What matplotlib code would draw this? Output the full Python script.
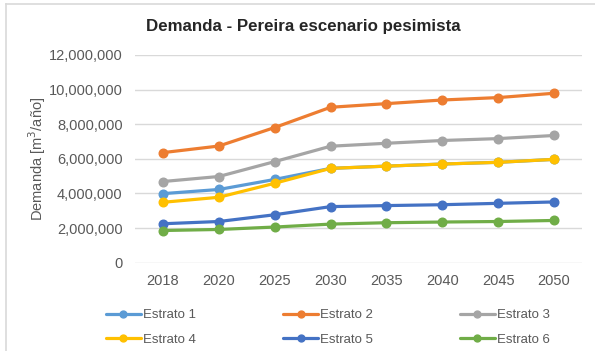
import matplotlib
matplotlib.use("Agg")
import matplotlib.pyplot as plt
from matplotlib.lines import Line2D
from matplotlib.ticker import FuncFormatter

plt.rcParams['font.family'] = ['Liberation Sans', 'DejaVu Sans']

years = ["2018", "2020", "2025", "2030", "2035", "2040", "2045", "2050"]
estrato_1 = [3990000, 4230000, 4810000, 5450000, 5580000, 5700000, 5800000, 5970000]
estrato_2 = [6360000, 6740000, 7810000, 8980000, 9190000, 9400000, 9540000, 9790000]
estrato_3 = [4690000, 4980000, 5840000, 6730000, 6900000, 7060000, 7170000, 7350000]
estrato_4 = [3490000, 3780000, 4590000, 5450000, 5580000, 5700000, 5800000, 5970000]
estrato_5 = [2250000, 2380000, 2770000, 3240000, 3300000, 3350000, 3430000, 3510000]
estrato_6 = [1860000, 1920000, 2060000, 2230000, 2310000, 2350000, 2380000, 2440000]
series_names = ["Estrato 1", "Estrato 2", "Estrato 3", "Estrato 4", "Estrato 5", "Estrato 6"]
series_colors = ["#5B9BD5", "#ED7D31", "#A5A5A5", "#FFC000", "#4472C4", "#70AD47"]
y_ticks = [0, 2000000, 4000000, 6000000, 8000000, 10000000, 12000000]

W, H = 595, 351
fig = plt.figure(figsize=(W / 100, H / 100), dpi=100)
ax = fig.add_axes([135 / W, 1 - 262.7 / H, (582 - 135) / W, (262.7 - 55) / H])

x = list(range(len(years)))
all_series = [estrato_1, estrato_2, estrato_3, estrato_4, estrato_5, estrato_6]
handles = []
for vals, name, col in zip(all_series, series_names, series_colors):
    h, = ax.plot(x, vals, color=col, lw=2.3, marker='o', ms=6.2,
                 solid_capstyle='round', label=name)
    handles.append(h)

ax.set_xlim(-0.5, len(years) - 0.5)
ax.set_ylim(0, 12000000)
ax.set_yticks(y_ticks)
ax.yaxis.set_major_formatter(FuncFormatter(lambda v, p: f"{int(v):,}"))
ax.set_xticks(x)
ax.set_xticklabels(years)
ax.grid(axis='y', color='#D9D9D9', lw=1.0)
ax.set_axisbelow(True)
for s in ax.spines.values():
    s.set_visible(False)
ax.tick_params(axis='both', length=0, labelsize=10.5, colors='#595959')
ax.tick_params(axis='y', pad=9)
ax.tick_params(axis='x', pad=8)

fig.text(303 / W, 1 - 26 / H, "Demanda - Pereira escenario pesimista",
         ha='center', va='center', fontsize=12.2, fontweight='bold', color='#262626')
fig.text(37 / W, 1 - 159 / H, "Demanda [m$^3$/año]", rotation=90,
         ha='center', va='center', fontsize=10.5, color='#595959')

# legend laid out row by row (three columns)
order = [0, 3, 1, 4, 2, 5]
leg = fig.legend([handles[i] for i in order], [series_names[i] for i in order],
                 ncol=3, loc='upper left', bbox_to_anchor=(106 / W, 1 - 309 / H),
                 frameon=False, fontsize=9.5, handlelength=2.65, handletextpad=0.15,
                 columnspacing=6.6, labelspacing=0.95, borderpad=0, borderaxespad=0,
                 markerscale=0.8)
for t in leg.get_texts():
    t.set_color('#595959')

# chart frame edges
fig.add_artist(Line2D([6 / W, 1], [1 - 4 / H, 1 - 4 / H], color='#D9D9D9', lw=1.2,
                      transform=fig.transFigure))
fig.add_artist(Line2D([6 / W, 6 / W], [0, 1 - 4 / H], color='#D9D9D9', lw=1.2,
                      transform=fig.transFigure))

fig.savefig("out.png", dpi=100, facecolor='white')
